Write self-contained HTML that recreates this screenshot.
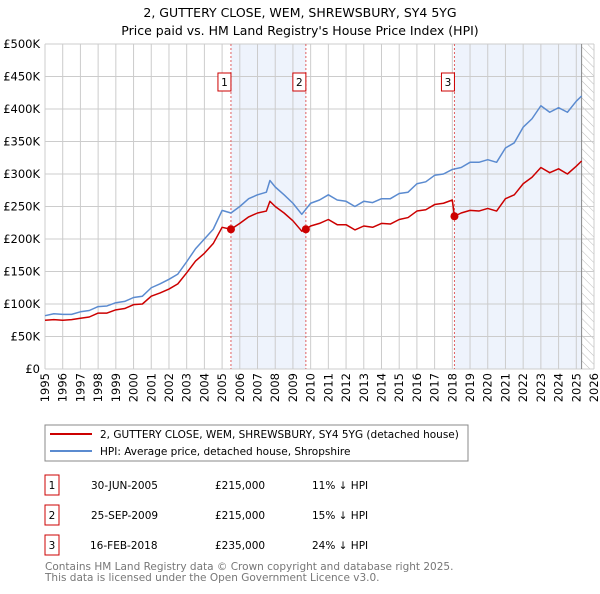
<!DOCTYPE html>
<html><head><meta charset="utf-8"><style>
body{margin:0;background:#fff;font-family:"DejaVu Sans","Liberation Sans",sans-serif;}
svg text{font-family:"DejaVu Sans","Liberation Sans",sans-serif;}
</style></head><body>
<svg id="c" width="600" height="590" xmlns="http://www.w3.org/2000/svg">
<defs><pattern id="hatch" width="6" height="6" patternUnits="userSpaceOnUse" patternTransform="rotate(-45)"><line x1="0" y1="0" x2="0" y2="6" stroke="#bbb" stroke-width="1"/></pattern></defs>
<text x="300" y="17" text-anchor="middle" font-size="12.5">2, GUTTERY CLOSE, WEM, SHREWSBURY, SY4 5YG</text>
<text x="300" y="35" text-anchor="middle" font-size="12.5">Price paid vs. HM Land Registry's House Price Index (HPI)</text>
<g id="plot"></g>
<rect x="45" y="425" width="423" height="36" fill="none" stroke="#888"/>
<line x1="50" y1="434" x2="92" y2="434" stroke="#cc0000" stroke-width="2"/>
<text x="100" y="438" font-size="10.5">2, GUTTERY CLOSE, WEM, SHREWSBURY, SY4 5YG (detached house)</text>
<line x1="50" y1="451" x2="92" y2="451" stroke="#5b8bd0" stroke-width="2"/>
<text x="100" y="455" font-size="10.5">HPI: Average price, detached house, Shropshire</text>
<g font-size="10.5">
<rect x="45" y="475" width="14" height="20" fill="none" stroke="#cc0000"/><text x="52" y="489" text-anchor="middle">1</text>
<text x="91" y="489">30-JUN-2005</text><text x="215" y="489">£215,000</text><text x="312" y="489">11% ↓ HPI</text>
<rect x="45" y="505" width="14" height="20" fill="none" stroke="#cc0000"/><text x="52" y="519" text-anchor="middle">2</text>
<text x="91" y="519">25-SEP-2009</text><text x="215" y="519">£215,000</text><text x="312" y="519">15% ↓ HPI</text>
<rect x="45" y="535" width="14" height="20" fill="none" stroke="#cc0000"/><text x="52" y="549" text-anchor="middle">3</text>
<text x="90" y="549">16-FEB-2018</text><text x="215" y="549">£235,000</text><text x="312" y="549">24% ↓ HPI</text>
</g>
<text x="45" y="570" font-size="10.5" fill="#777">Contains HM Land Registry data © Crown copyright and database right 2025.</text>
<text x="45" y="581" font-size="10.5" fill="#777">This data is licensed under the Open Government Licence v3.0.</text>
</svg>
<script>
const hpiYears=[1995,1995.5,1996,1996.5,1997,1997.5,1998,1998.5,1999,1999.5,2000,2000.5,2001,2001.5,2002,2002.5,2003,2003.5,2004,2004.5,2005,2005.5,2006,2006.5,2007,2007.5,2007.7,2008,2008.5,2009,2009.5,2010,2010.5,2011,2011.5,2012,2012.5,2013,2013.5,2014,2014.5,2015,2015.5,2016,2016.5,2017,2017.5,2018,2018.5,2019,2019.5,2020,2020.5,2021,2021.5,2022,2022.5,2023,2023.5,2024,2024.5,2025,2025.3];
const hpiValues=[82,85,84,84,88,90,96,97,102,104,110,112,125,131,138,146,165,185,200,215,244,240,250,262,268,272,290,280,268,255,238,255,260,268,260,258,250,258,256,262,262,270,272,285,288,298,300,307,310,318,318,322,318,340,348,372,385,405,395,402,395,412,420];
const priceYears=[1995,1995.5,1996,1996.5,1997,1997.5,1998,1998.5,1999,1999.5,2000,2000.5,2001,2001.5,2002,2002.5,2003,2003.5,2004,2004.5,2005,2005.5,2006,2006.5,2007,2007.5,2007.7,2008,2008.5,2009,2009.5,2009.73,2010,2010.5,2011,2011.5,2012,2012.5,2013,2013.5,2014,2014.5,2015,2015.5,2016,2016.5,2017,2017.5,2018,2018.12,2018.5,2019,2019.5,2020,2020.5,2021,2021.5,2022,2022.5,2023,2023.5,2024,2024.5,2025,2025.3];
const priceValues=[75,76,75,76,78,80,86,86,91,93,99,100,112,117,123,131,148,166,178,193,218,215,224,234,240,243,258,250,240,228,212,215,220,224,230,222,222,214,220,218,224,223,230,233,243,245,253,255,260,235,240,244,243,247,243,262,268,285,295,310,302,308,300,312,320];
const saleYears=[2005.5,2009.73,2018.12];
const saleValues=[215,215,235];
const saleLabels=["1","2","3"];
const yTicks=[0,50,100,150,200,250,300,350,400,450,500];
const xTicks=[1995,1996,1997,1998,1999,2000,2001,2002,2003,2004,2005,2006,2007,2008,2009,2010,2011,2012,2013,2014,2015,2016,2017,2018,2019,2020,2021,2022,2023,2024,2025,2026];
const L=45,R=594,T=44,B=369,X0=1995,X1=2026,Ymax=500,dataEnd=2025.3;
const xs=v=>L+(v-X0)/(X1-X0)*(R-L);
const ys=v=>B-v/Ymax*(B-T);
const NS="http://www.w3.org/2000/svg";
const g=document.getElementById('plot');
function mk(tag,attrs,parent){const e=document.createElementNS(NS,tag);for(const k in attrs)e.setAttribute(k,attrs[k]);(parent||g).appendChild(e);return e;}
// shading: sale1->sale2, sale3->end
const shades=[[saleYears[0],saleYears[1]],[saleYears[2],dataEnd]];
shades.forEach(s=>{
  const r=mk('rect',{x:xs(s[0]),y:T,width:xs(s[1])-xs(s[0]),height:B-T,fill:'#eef3fc'});
  
  
});
const hr=mk('rect',{x:xs(dataEnd),y:T,width:R-xs(dataEnd),height:B-T,fill:'url(#hatch)'});


yTicks.forEach(t=>{
  const l=mk('line',{x1:L,x2:R,y1:ys(t),y2:ys(t),stroke:'#ccc'});
  
  
  const tx=mk('text',{x:L-5,y:ys(t)+4,'text-anchor':'end','font-size':'11.5'});
  tx.textContent=t===0?'£0':'£'+t+'K';
  
  
});
xTicks.forEach(t=>{
  const l=mk('line',{x1:xs(t),x2:xs(t),y1:T,y2:B,stroke:'#ccc'});
  
  
  const x=xs(t)+4,y=373;
  const tx=mk('text',{x:x,y:y,'text-anchor':'end','font-size':'11.5',transform:'rotate(-90 '+x+' '+y+')'});
  tx.textContent=t;
  
  
});
const el=mk('line',{x1:xs(dataEnd),x2:xs(dataEnd),y1:T,y2:B,stroke:'#888'});


saleYears.forEach((s,i)=>{
  const l=mk('line',{x1:xs(s),x2:xs(s),y1:T,y2:B,stroke:'#e06060','stroke-dasharray':'2,2'});
  
  
  const bx=mk('rect',{x:xs(s)-13,y:73,width:13,height:18,fill:'#fff',stroke:'#cc0000'});
  
  
  const t=mk('text',{x:xs(s)-6.5,y:86,'text-anchor':'middle','font-size':'10.5'});
  t.textContent=saleLabels[i];
  
  
});
function line(xa,va,color,name){
  const p=mk('polyline',{points:xa.map((x,i)=>xs(x)+','+ys(va[i])).join(' '),fill:'none',stroke:color,'stroke-width':1.5,'stroke-linejoin':'round'});
  
  
}
line(hpiYears,hpiValues,'#5b8bd0','hpi-line');
line(priceYears,priceValues,'#cc0000','price-line');
saleYears.forEach((s,i)=>{
  const c=mk('circle',{cx:xs(s),cy:ys(saleValues[i]),r:4,fill:'#cc0000'});
  
  
});
</script>
</body></html>
